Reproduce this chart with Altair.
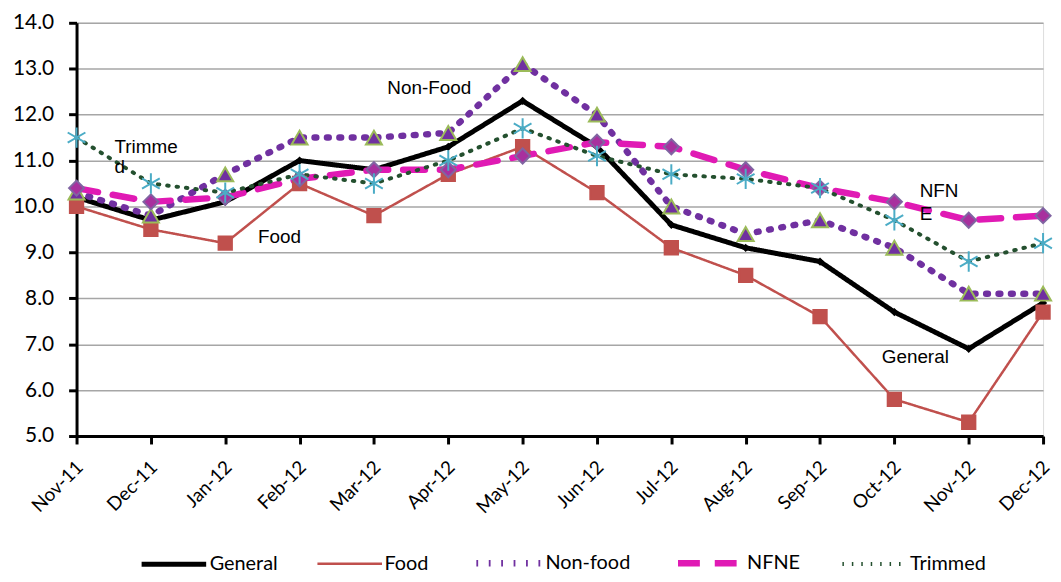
import altair as alt
import pandas as pd

months = ["Nov-11", "Dec-11", "Jan-12", "Feb-12", "Mar-12", "Apr-12", "May-12",
          "Jun-12", "Jul-12", "Aug-12", "Sep-12", "Oct-12", "Nov-12", "Dec-12"]
series_names = ["General", "Food", "Non-food", "NFNE", "Trimmed"]

general = [10.2, 9.7, 10.1, 11.0, 10.8, 11.3, 12.3, 11.3, 9.6, 9.1, 8.8, 7.7, 6.9, 7.9]
food = [10.0, 9.5, 9.2, 10.5, 9.8, 10.7, 11.3, 10.3, 9.1, 8.5, 7.6, 5.8, 5.3, 7.7]
nonfood = [10.3, 9.8, 10.7, 11.5, 11.5, 11.6, 13.1, 12.0, 10.0, 9.4, 9.7, 9.1, 8.1, 8.1]
nfne = [10.4, 10.1, 10.2, 10.6, 10.8, 10.8, 11.1, 11.4, 11.3, 10.8, 10.4, 10.1, 9.7, 9.8]
trimmed = [11.5, 10.5, 10.3, 10.7, 10.5, 11.0, 11.7, 11.1, 10.7, 10.6, 10.4, 9.7, 8.8, 9.2]

# in-plot annotations: text, x position (month index), y value
ann_text = ["Trimme", "d", "Non-Food", "Food", "NFN", "E", "General"]
ann_x = [0.51, 0.51, 4.18, 2.44, 11.34, 11.34, 10.83]
ann_y = [11.29, 10.85, 12.57, 9.33, 10.33, 9.84, 6.73]

values = [general, food, nonfood, nfne, trimmed]
rows = []
for name, vals in zip(series_names, values):
    for i, v in enumerate(vals):
        rows.append({"series": name, "idx": i, "month": months[i], "value": v})
df = pd.DataFrame(rows)
ann = pd.DataFrame({"text": ann_text, "x": ann_x, "y": ann_y})

line_colors = ["#000000", "#C0504D", "#7030A0", "#E01AB4", "#24502F"]
line_widths = [5, 2.5, 6.5, 6.5, 4]
line_dash = [[1, 0], [1, 0], [1.8, 10.7], [22, 15], [1.5, 8]]

asterisk = "M0,-1L0,1M-0.87,-0.5L0.87,0.5M-0.87,0.5L0.87,-0.5"
pt_shapes = ["diamond", "square", "triangle-up", "diamond", asterisk]
pt_fill = ["#000000", "#C0504D", "#7030A0", "#A8309E", "#4BACC6"]
pt_stroke = ["#000000", "#C0504D", "#9BBB59", "#8064A2", "#4BACC6"]
pt_size = [30, 180, 260, 230, 420]

label_expr = "[" + ",".join("'%s'" % m for m in months) + "][datum.value]"

x_enc = alt.X("idx:Q", scale=alt.Scale(domain=[0, len(months) - 1], nice=False, zero=False),
              axis=alt.Axis(values=list(range(len(months))), labelExpr=label_expr,
                            labelAngle=-45, labelAlign="right", labelBaseline="middle",
                            labelFont="Lato", labelFontSize=19, labelColor="#000000",
                            labelPadding=20, labelOffset=3, domainColor="#000000", domainWidth=3,
                            tickColor="#000000", tickWidth=3, tickSize=8,
                            grid=False, title=None))
y_enc = alt.Y("value:Q", scale=alt.Scale(domain=[5, 14], nice=False, zero=False),
              axis=alt.Axis(values=list(range(5, 15)), format=".1f",
                            labelFont="Lato", labelFontSize=21, labelColor="#000000",
                            labelPadding=15, domainColor="#000000", domainWidth=3,
                            tickColor="#000000", tickWidth=3, tickSize=8,
                            grid=True, gridColor="#A6A6A6", gridWidth=1.5, title=None))

leg = dict(title=None, orient="none", direction="horizontal", legendX=63, legendY=508,
           symbolType="stroke", symbolSize=4225, labelFont="Lato", labelFontSize=20,
           labelColor="#000000", columnPadding=34, labelOffset=1)

lines = alt.Chart(df).mark_line(strokeCap="round", strokeJoin="round").encode(
    x=x_enc,
    y=y_enc,
    color=alt.Color("series:N", scale=alt.Scale(domain=series_names, range=line_colors),
                    legend=alt.Legend(**leg)),
    strokeDash=alt.StrokeDash("series:N", scale=alt.Scale(domain=series_names, range=line_dash),
                              legend=alt.Legend(**leg)),
    strokeWidth=alt.StrokeWidth("series:N", scale=alt.Scale(type="ordinal", domain=series_names,
                                                            range=line_widths),
                                legend=alt.Legend(**leg)),
    order=alt.Order("idx:Q"),
)

point_layers = []
for name, shp, fl, st, sz in zip(series_names, pt_shapes, pt_fill, pt_stroke, pt_size):
    point_layers.append(
        alt.Chart(df).transform_filter(alt.datum.series == name).mark_point(
            filled=True, shape=shp, fill=fl, stroke=st, size=sz, strokeWidth=2, opacity=1
        ).encode(x="idx:Q", y="value:Q")
    )

labels = alt.Chart(ann).mark_text(align="left", baseline="middle", font="Liberation Sans",
                                  fontSize=19, color="#000000").encode(
    x="x:Q", y="y:Q", text="text:N")

chart = alt.layer(lines, *point_layers, labels).properties(
    width=973, height=416,
    autosize=alt.AutoSizeParams(type="none"),
    padding={"left": 69, "top": 13, "right": 10, "bottom": 137},
).configure_view(stroke=None).configure(background="#FFFFFF")

chart.save("out.html", embed_options={"renderer": "svg", "actions": False})
